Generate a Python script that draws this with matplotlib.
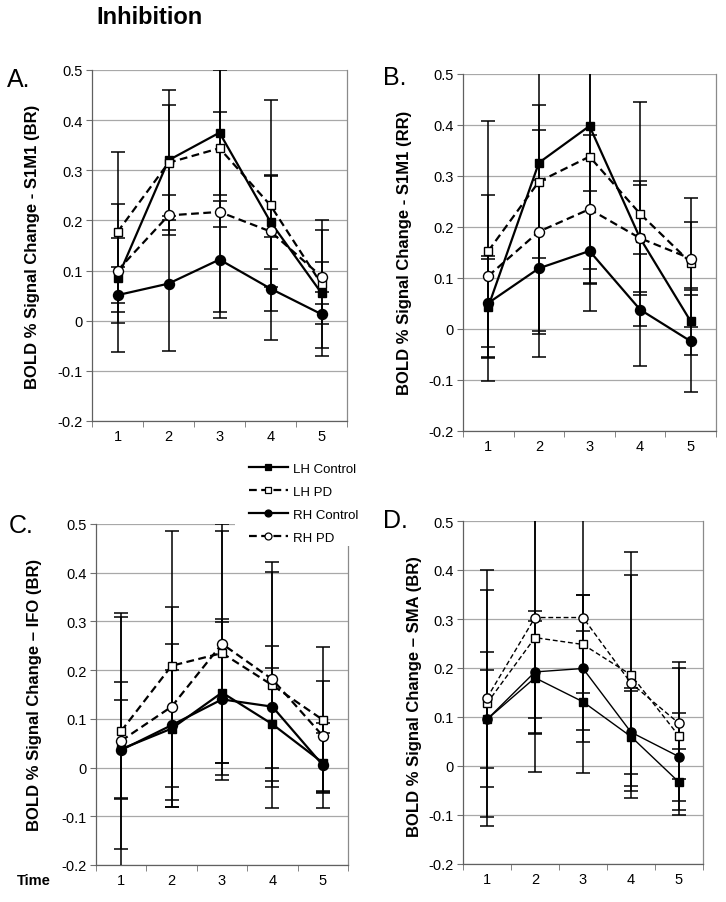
import matplotlib
matplotlib.use('Agg')
import matplotlib.pyplot as plt
from matplotlib.lines import Line2D
from matplotlib.patches import Rectangle

plt.rcParams['font.family'] = ['Liberation Sans', 'DejaVu Sans']

# x positions (time bins)
time = [1, 2, 3, 4, 5]
series_names = ['LH Control', 'LH PD', 'RH Control', 'RH PD']

# Panel A - S1M1 (BR)
a_lhc = [0.085, 0.320, 0.375, 0.197, 0.055]
a_lhc_err = [0.147, 0.140, 0.125, 0.093, 0.125]
a_lhpd = [0.177, 0.315, 0.344, 0.230, 0.073]
a_lhpd_err = [0.159, 0.115, 0.157, 0.210, 0.127]
a_rhc = [0.051, 0.074, 0.122, 0.064, 0.013]
a_rhc_err = [0.056, 0.134, 0.117, 0.102, 0.020]
a_rhpd = [0.100, 0.210, 0.217, 0.178, 0.088]
a_rhpd_err = [0.065, 0.040, 0.200, 0.110, 0.030]

# Panel B - S1M1 (RR)
b_lhc = [0.044, 0.326, 0.398, 0.178, 0.015]
b_lhc_err = [0.100, 0.330, 0.280, 0.105, 0.065]
b_lhpd = [0.153, 0.289, 0.338, 0.226, 0.130]
b_lhpd_err = [0.255, 0.150, 0.250, 0.220, 0.126]
b_rhc = [0.051, 0.119, 0.153, 0.038, -0.024]
b_rhc_err = [0.086, 0.173, 0.117, 0.110, 0.100]
b_rhpd = [0.104, 0.191, 0.235, 0.178, 0.138]
b_rhpd_err = [0.158, 0.200, 0.145, 0.112, 0.072]

# Panel C - IFO (BR)
c_lhc = [0.038, 0.080, 0.154, 0.089, 0.010]
c_lhc_err = [0.100, 0.120, 0.145, 0.116, 0.060]
c_lhpd = [0.075, 0.209, 0.235, 0.169, 0.098]
c_lhpd_err = [0.242, 0.276, 0.250, 0.253, 0.150]
c_rhc = [0.036, 0.087, 0.140, 0.125, 0.005]
c_rhc_err = [0.274, 0.167, 0.165, 0.125, 0.087]
c_rhpd = [0.055, 0.125, 0.254, 0.181, 0.065]
c_rhpd_err = [0.120, 0.205, 0.245, 0.220, 0.113]

# Panel D - SMA (BR)
d_lhc = [0.095, 0.180, 0.131, 0.060, -0.033]
d_lhc_err = [0.137, 0.115, 0.145, 0.100, 0.067]
d_lhpd = [0.128, 0.262, 0.248, 0.186, 0.061]
d_lhpd_err = [0.232, 0.275, 0.100, 0.251, 0.151]
d_rhc = [0.095, 0.192, 0.199, 0.069, 0.019]
d_rhc_err = [0.100, 0.125, 0.150, 0.085, 0.090]
d_rhpd = [0.139, 0.303, 0.303, 0.169, 0.087]
d_rhpd_err = [0.262, 0.205, 0.230, 0.221, 0.113]

W, H = 726, 903
fig = plt.figure(figsize=(W / 100, H / 100), dpi=100)


def px_axes(l, t, r, b):
    return fig.add_axes([l / W, 1 - b / H, (r - l) / W, (b - t) / H])


styles = [
    dict(marker='s', ls='-', mfc='black'),
    dict(marker='s', ls=(0, (3.5, 2)), mfc='white'),
    dict(marker='o', ls='-', mfc='black'),
    dict(marker='o', ls=(0, (3.5, 2)), mfc='white'),
]


def draw_panel(ax, vals, errs, lw=1.6, ms=(6.4, 7.2)):
    ax.set_xlim(0.5, 5.5)
    ax.set_ylim(-0.2, 0.5)
    ax.set_yticks([-0.2, -0.1, 0, 0.1, 0.2, 0.3, 0.4, 0.5])
    ax.set_yticklabels(['-0.2', '-0.1', '0', '0.1', '0.2', '0.3', '0.4', '0.5'])
    ax.set_xticks(time)
    ax.set_xticks([0.5, 1.5, 2.5, 3.5, 4.5, 5.5], minor=True)
    ax.tick_params(axis='x', which='major', length=0, pad=6, labelsize=10.5)
    ax.tick_params(axis='x', which='minor', length=4, color='#707070', direction='out')
    ax.tick_params(axis='y', length=4, color='#707070', pad=3, labelsize=10.5)
    ax.grid(axis='y', color='#a8a8a8', lw=0.9)
    ax.set_axisbelow(True)
    for s in ax.spines.values():
        s.set_color('#8a8a8a')
        s.set_linewidth(0.9)
    ax.spines['left'].set_color('#606060')
    ax.spines['bottom'].set_color('#606060')
    ax.spines['top'].set_visible(False)
    for v, e in zip(vals, errs):
        ax.errorbar(time, v, yerr=e, fmt='none', ecolor='black', elinewidth=1.1,
                    capsize=5, capthick=1.1, zorder=3)
    for v, st in zip(vals, styles):
        size = ms[0] if st['marker'] == 's' else ms[1]
        ax.plot(time, v, color='black', lw=lw, ls=st['ls'], marker=st['marker'],
                mfc=st['mfc'], mec='black', mew=1.0, ms=size, zorder=4)


axA = px_axes(92, 71, 347, 422)
draw_panel(axA, [a_lhc, a_lhpd, a_rhc, a_rhpd], [a_lhc_err, a_lhpd_err, a_rhc_err, a_rhpd_err])
axB = px_axes(463, 75, 716, 432)
draw_panel(axB, [b_lhc, b_lhpd, b_rhc, b_rhpd], [b_lhc_err, b_lhpd_err, b_rhc_err, b_rhpd_err])
axC = px_axes(96, 525, 348, 866)
draw_panel(axC, [c_lhc, c_lhpd, c_rhc, c_rhpd], [c_lhc_err, c_lhpd_err, c_rhc_err, c_rhpd_err])
axD = px_axes(463, 522, 703, 865)
draw_panel(axD, [d_lhc, d_lhpd, d_rhc, d_rhpd], [d_lhc_err, d_lhpd_err, d_rhc_err, d_rhpd_err],
           lw=1.0, ms=(5.8, 6.6))

# y labels
ylabels = [
    (33, 247, 'BOLD % Signal Change - S1M1 (BR)'),
    (405, 253, 'BOLD % Signal Change - S1M1 (RR)'),
    (35, 695, 'BOLD % Signal Change \u2013 IFO (BR)'),
    (414, 697, 'BOLD % Signal Change \u2013 SMA (BR)'),
]
for x, y, txt in ylabels:
    fig.text(x / W, 1 - y / H, txt, rotation=90, ha='center', va='center',
             fontsize=12, fontweight='bold')

# panel letters
for x, y, txt in [(7, 80, 'A.'), (383, 78, 'B.'), (9, 526, 'C.'), (383, 521, 'D.')]:
    fig.text(x / W, 1 - y / H, txt, ha='left', va='center', fontsize=18)

fig.text(96 / W, 1 - 17 / H, 'Inhibition', ha='left', va='center', fontsize=17, fontweight='bold')
fig.text(17 / W, 1 - 881 / H, 'Time', ha='left', va='center', fontsize=10.5, fontweight='bold')

# white area behind the legend (covers top right of panel C)
fig.add_artist(Rectangle((235 / W, 1 - 547 / H), 128 / W, 95 / H, transform=fig.transFigure,
                         facecolor='white', edgecolor='none', zorder=4))

handles = []
for name, st in zip(series_names, styles):
    handles.append(Line2D([], [], color='black', lw=1.6, ls=st['ls'], marker=st['marker'],
                          mfc=st['mfc'], mec='black', mew=0.9, ms=4.5 if st['marker'] == 's' else 5))
fig.legend(handles, series_names, loc='upper left', bbox_to_anchor=(238 / W, 1 - 453 / H),
           frameon=False, fontsize=9.5, handlelength=3.0, labelspacing=0.82, handletextpad=0.4,
           borderpad=0.3)

plt.savefig('out.png', dpi=100)
